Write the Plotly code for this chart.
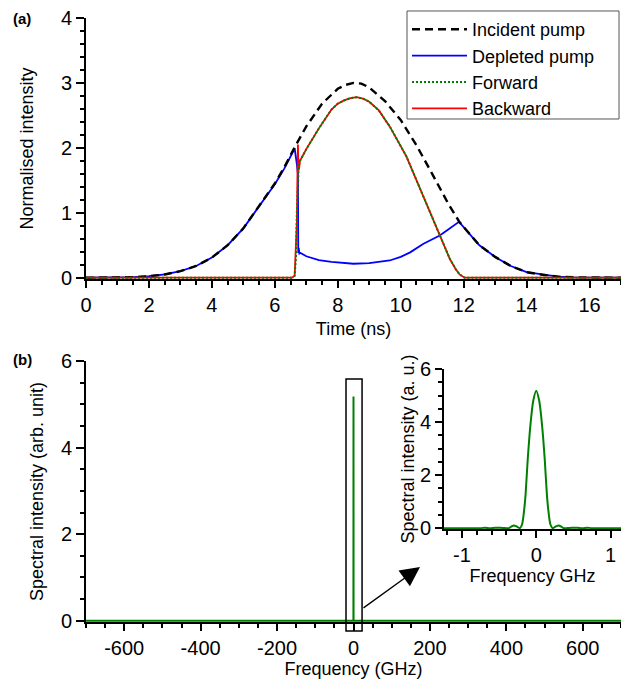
import plotly.graph_objects as go

# ---------------- data ----------------
t_inc = [0, 1, 1.5, 2, 2.5, 3, 3.5, 4, 4.5, 5, 5.5, 6, 6.3, 6.63, 7, 7.5, 8, 8.25, 8.5, 8.75,
         9, 9.5, 10, 10.5, 11, 11.5, 11.85, 12, 12.5, 13, 13.5, 14, 14.5, 15, 15.5, 16, 17]
inc = [0, 0.003, 0.009, 0.022, 0.05, 0.1, 0.18, 0.31, 0.5, 0.76, 1.1, 1.45, 1.7, 2.01, 2.33, 2.68, 2.91, 2.97, 3.0, 2.99,
       2.93, 2.72, 2.43, 2.04, 1.6, 1.15, 0.87, 0.78, 0.5, 0.32, 0.18, 0.085, 0.045, 0.015, 0.006, 0.002, 0]

t_dep = [0, 1, 1.5, 2, 2.5, 3, 3.5, 4, 4.5, 5, 5.5, 6, 6.3, 6.63, 6.7, 6.735, 6.745, 6.76, 6.78, 6.82,
         7.0, 7.4, 7.8, 8.5, 9.0, 9.65, 10.0, 10.3, 10.71, 11.24, 11.5, 11.85, 12, 12.5, 13, 13.5,
         14, 14.5, 15, 15.5, 16, 17]
dep = [0, 0.003, 0.009, 0.022, 0.05, 0.1, 0.18, 0.31, 0.5, 0.76, 1.1, 1.44, 1.68, 1.99, 1.75, 1.6, 0.38, 0.46, 0.37, 0.38,
       0.33, 0.27, 0.245, 0.215, 0.225, 0.265, 0.32, 0.39, 0.52, 0.65, 0.74, 0.86, 0.78, 0.5, 0.32, 0.18,
       0.085, 0.045, 0.015, 0.006, 0.002, 0]

t_fwd = [0, 6.55, 6.63, 6.67, 6.7, 6.73, 6.76, 6.8, 7.0, 7.4, 7.8, 8.0, 8.2, 8.4, 8.6, 8.8, 9.0, 9.3,
         9.65, 10.18, 10.71, 11.24, 11.56, 11.75, 11.87, 12.03, 17]
fwd = [0, 0, 0.03, 0.3, 1.0, 1.55, 1.72, 1.8, 1.98, 2.3, 2.59, 2.68, 2.73, 2.765, 2.78, 2.76, 2.71, 2.58,
       2.33, 1.87, 1.26, 0.65, 0.29, 0.13, 0.05, 0, 0]

t_bwd = [0, 6.55, 6.63, 6.67, 6.7, 6.72, 6.735, 6.75, 6.77, 6.8, 7.0, 7.4, 7.8, 8.0, 8.2, 8.4, 8.6, 8.8,
         9.0, 9.3, 9.65, 10.18, 10.71, 11.24, 11.56, 11.75, 11.87, 12.03, 17]
bwd = [0, 0, 0.03, 0.4, 0.85, 1.6, 2.05, 1.65, 1.68, 1.8, 1.98, 2.3, 2.59, 2.68, 2.73, 2.765, 2.78, 2.76,
       2.71, 2.58, 2.33, 1.87, 1.26, 0.65, 0.29, 0.13, 0.05, 0, 0]

freq = [-700, -1.5, -0.75, -0.69, -0.62, -0.55, -0.45, -0.37, -0.33, -0.3, -0.26, -0.22, -0.19, -0.16,
        -0.142, -0.115, -0.08, -0.04, 0, 0.04, 0.08, 0.115, 0.142, 0.16, 0.19, 0.22, 0.26, 0.3, 0.33,
        0.37, 0.45, 0.55, 0.62, 0.69, 0.75, 1.5, 700]
spec = [0, 0, 0, 0.02, 0, 0.02, 0.01, 0.0, 0.07, 0.1, 0.06, 0.0, 0.15, 0.75,
        1.32, 2.57, 3.83, 4.8, 5.18, 4.8, 3.83, 2.57, 1.32, 0.75, 0.15, 0.0, 0.06, 0.1, 0.07,
        0.0, 0.01, 0.02, 0, 0.02, 0, 0, 0]

# tick labels (hyphen minus as in the reference)
freq_tickvals = [-600, -400, -200, 0, 200, 400, 600]
freq_ticktext = ["-600", "-400", "-200", "0", "200", "400", "600"]
inset_tickvals = [-1, 0, 1]
inset_ticktext = ["-1", "0", "1"]

# ---------------- figure ----------------
FONT = "Arial, Liberation Sans, sans-serif"
fig = go.Figure()

fig.add_trace(go.Scatter(x=t_dep, y=dep, mode="lines", name="Depleted pump", legendrank=2,
                         line=dict(color="#0000ff", width=1.8), xaxis="x", yaxis="y"))
fig.add_trace(go.Scatter(x=t_inc, y=inc, mode="lines", name="Incident pump", legendrank=1,
                         line=dict(color="black", width=2.4, dash="8px,5px"), xaxis="x", yaxis="y"))
fig.add_trace(go.Scatter(x=t_bwd, y=bwd, mode="lines", name="Backward", legendrank=4,
                         line=dict(color="#ff0000", width=1.8), xaxis="x", yaxis="y"))
fig.add_trace(go.Scatter(x=t_fwd, y=fwd, mode="lines", name="Forward", legendrank=3,
                         line=dict(color="#008000", width=2, dash="2px,2px"), xaxis="x", yaxis="y"))

fig.add_trace(go.Scatter(x=freq, y=spec, mode="lines", showlegend=False,
                         line=dict(color="#008000", width=2), xaxis="x2", yaxis="y2"))
fig.add_trace(go.Scatter(x=freq, y=spec, mode="lines", showlegend=False,
                         line=dict(color="#008000", width=2, shape="spline", smoothing=0.8),
                         xaxis="x3", yaxis="y3"))

def ax(**kw):
    d = dict(showline=True, linecolor="black", linewidth=1.6, ticks="outside", ticklen=7,
             tickwidth=1.5, tickcolor="black", showgrid=False, zeroline=False,
             tickfont=dict(size=20, color="black", family=FONT),
             title_font=dict(size=18, color="black", family=FONT))
    d.update(kw)
    return d

minor = lambda dt: dict(dtick=dt, ticks="outside", ticklen=4, tickwidth=1.5, tickcolor="black", showgrid=False)

fig.update_layout(
    width=621, height=686,
    margin=dict(l=86, r=0, t=18, b=64, autoexpand=False),
    paper_bgcolor="white", plot_bgcolor="rgba(0,0,0,0)",
    font=dict(family=FONT, color="black"),
    xaxis=ax(domain=[0, 1], range=[0, 17], anchor="y", tickmode="linear", tick0=0, dtick=2,
             minor=minor(0.5), title=dict(text="Time (ns)", standoff=8)),
    yaxis=ax(domain=[0.5679, 1], range=[-0.02, 4], anchor="x", tickmode="linear", tick0=0, dtick=1,
             minor=minor(0.2), ticklen=8, title=dict(text="Normalised intensity", standoff=23)),
    xaxis2=ax(domain=[0, 1], range=[-700, 700], anchor="y2", tickmode="array",
              tickvals=freq_tickvals, ticktext=freq_ticktext,
              minor=dict(tickmode="linear", tick0=0, dtick=50, ticks="outside", ticklen=4, tickwidth=1.5,
                         tickcolor="black", showgrid=False),
              title=dict(text="Frequency (GHz)", standoff=4)),
    yaxis2=ax(domain=[0, 0.4321], range=[-0.03, 6], anchor="x2", tickmode="linear", tick0=0, dtick=2,
              minor=minor(0.5), ticklen=8, title=dict(text="Spectral intensity (arb. unit)", standoff=13)),
    xaxis3=ax(domain=[0.6692, 1], range=[-1.24, 1.14], anchor="y3", tickmode="array",
              tickvals=inset_tickvals, ticktext=inset_ticktext,
              minor=dict(tickmode="linear", tick0=0, dtick=0.2, ticks="outside", ticklen=4, tickwidth=1.5,
                         tickcolor="black", showgrid=False),
              title=dict(text="Frequency GHz", standoff=2)),
    yaxis3=ax(domain=[0.154, 0.4189], range=[-0.03, 6], anchor="x3", tickmode="linear", tick0=0, dtick=2,
              minor=minor(0.5), title=dict(text="Spectral intensity (a. u.)", standoff=1)),
    legend=dict(x=0.6, y=1.0116, xanchor="left", yanchor="top", bgcolor="rgba(0,0,0,0)",
                borderwidth=0, font=dict(size=18, family=FONT, color="black"),
                itemwidth=55, tracegroupgap=0),
    showlegend=True,
)

# legend frame
fig.add_shape(type="rect", xref="paper", yref="paper", x0=0.6, x1=0.9963, y0=0.8328, y1=1.0116,
              line=dict(color="#555555", width=1), fillcolor="white", layer="below")

# zoom box around the peak
fig.add_shape(type="rect", xref="paper", yref="paper", x0=0.486, x1=0.516, y0=-0.0149, y1=0.4023,
              line=dict(color="black", width=1.5), fillcolor="rgba(0,0,0,0)")

fig.add_annotation(x=0.6243, y=0.0911, xref="paper", yref="paper", ax=-58, ay=42, text="",
                   showarrow=True, arrowhead=2, arrowsize=3, arrowwidth=1.3, arrowcolor="black")

fig.add_annotation(x=-0.1196, y=1.0, xref="paper", yref="paper", text="<b>(a)</b>", showarrow=False,
                   xanchor="center", yanchor="middle", font=dict(size=15, family=FONT, color="black"))
fig.add_annotation(x=-0.1196, y=0.4338, xref="paper", yref="paper", text="<b>(b)</b>", showarrow=False,
                   xanchor="center", yanchor="middle", font=dict(size=15, family=FONT, color="black"))

fig.write_html("out.html", config={"displayModeBar": False},
               post_script="document.body.style.margin='0px';")
